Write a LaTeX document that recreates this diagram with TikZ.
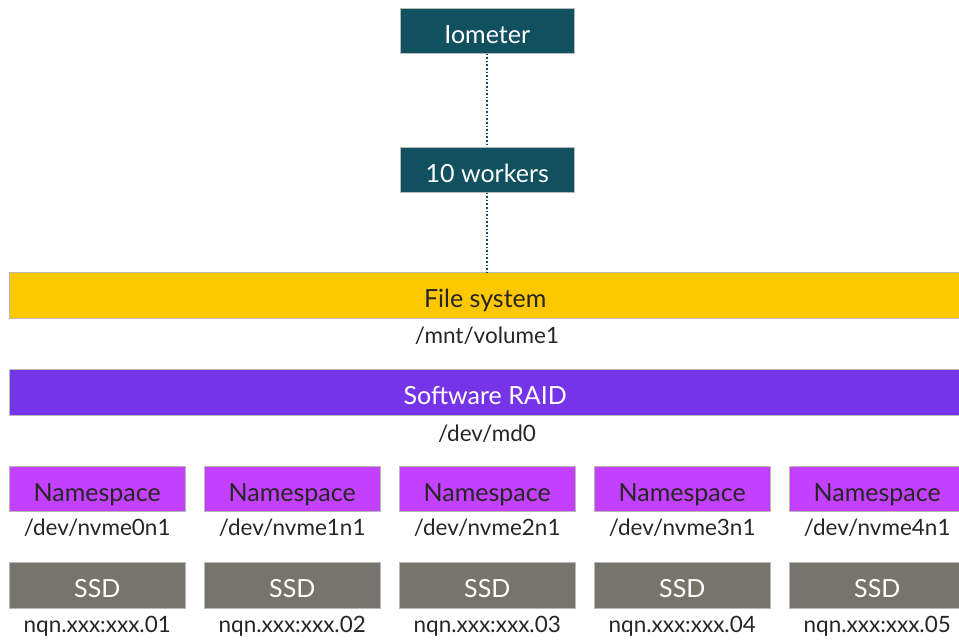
\documentclass[tikz,border=0pt]{standalone}
\usepackage{fontspec}
\setmainfont{Lato}
\definecolor{teal}{HTML}{11505E}
\definecolor{fsyellow}{HTML}{FDC800}
\definecolor{raidpurple}{HTML}{7634E8}
\definecolor{nsmagenta}{HTML}{C340FF}
\definecolor{ssdgray}{HTML}{76746C}
\definecolor{edgegray}{HTML}{B8B8B8}
\tikzset{
  box/.style={draw=edgegray, line width=0.5pt, anchor=north west, inner sep=0pt,
    font=\fontsize{25}{28}\selectfont, text height=25pt, text depth=0pt},
  topbox/.style={box, fill=teal, text=white, minimum width=174pt, minimum height=45pt},
  bar/.style={box, minimum width=952pt, minimum height=46pt},
  nsbox/.style={box, fill=nsmagenta, text=black!85, minimum width=176pt, minimum height=45pt},
  ssdbox/.style={box, fill=ssdgray, text=white, minimum width=176pt, minimum height=46pt},
  lbl/.style={font=\fontsize{22.5}{26}\selectfont, text=black!85, inner sep=0pt},
  dotline/.style={draw=teal, line width=1.6pt, dotted}
}
\begin{document}
\begin{tikzpicture}[x=1pt,y=-1pt]
\useasboundingbox (0,0) rectangle (959,641);
\begin{scope}
\clip (0,0) rectangle (959,641);
\node[topbox] (io) at (400,8) {Iometer};
\node[topbox] (wk) at (400,147) {10 workers};
\node[bar, fill=fsyellow, text=black!85] (fs) at (9,272) {File system};
\node[lbl] (fsl) at (487,336) {/mnt/volume1};
\node[bar, fill=raidpurple, text=white] (raid) at (9,369) {Software RAID};
\node[lbl] (raidl) at (487,434) {/dev/md0};
\foreach \i/\x in {0/9,1/204,2/399,3/594,4/789}{
  \node[nsbox] (ns\i) at (\x,466) {Namespace};
  \node[lbl] (nsl\i) at ([yshift=-16pt]ns\i.south) {/dev/nvme\i n1};
}
\foreach \i/\x/\n in {0/9/01,1/204/02,2/399/03,3/594/04,4/789/05}{
  \node[ssdbox] (ssd\i) at (\x,562) {SSD};
  \node[lbl] (ssdl\i) at ([yshift=-18pt]ssd\i.south) {nqn.xxx:xxx.\n};
}
\end{scope}
\draw[dotline] (io.south) -- (wk.north);
\draw[dotline] (wk.south) -- (wk.south |- fs.north);
\end{tikzpicture}
\end{document}
